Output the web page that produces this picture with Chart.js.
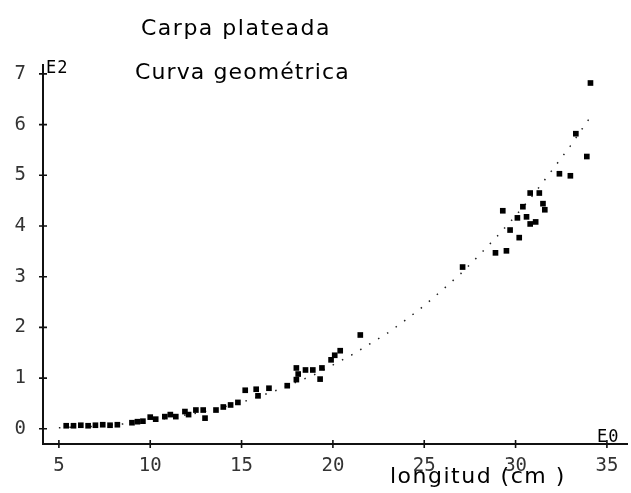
<!DOCTYPE html>
<html>
<head>
<meta charset="utf-8">
<script src="https://cdn.jsdelivr.net/npm/chart.js@4.4.0/dist/chart.umd.min.js"></script>
<style>
  html, body { margin: 0; padding: 0; background: #fff; }
  #wrap { width: 631px; height: 493px; }
</style>
</head>
<body>
<div id="wrap"><canvas id="chart" width="631" height="493"></canvas></div>
<script>
// longitud (cm) vs peso (E2)
const lengthCm = [5.4, 5.8, 6.2, 6.6, 7.0, 7.4, 7.8, 8.2, 9.0, 9.3, 9.6, 10.0, 10.3, 10.8, 11.1, 11.4, 11.9, 12.1, 12.5, 12.9, 13.0, 13.6, 14.0, 14.4, 14.8,
  15.2, 15.8, 15.9, 16.5, 17.5, 18.0, 18.0, 18.1, 18.5, 18.9, 19.3, 19.4, 19.9, 20.1, 20.4, 21.5,
  27.1, 28.9, 29.3, 29.5, 29.7, 30.1, 30.2, 30.4, 30.6, 30.8, 30.8, 31.1, 31.3, 31.5, 31.6, 32.4, 33.0, 33.3, 33.9, 34.1];
const weightE2 = [0.06, 0.06, 0.07, 0.06, 0.07, 0.08, 0.07, 0.08, 0.12, 0.14, 0.15, 0.23, 0.19, 0.24, 0.28, 0.24, 0.34, 0.28, 0.37, 0.37, 0.21, 0.37, 0.43, 0.47, 0.52,
  0.76, 0.78, 0.65, 0.80, 0.85, 0.97, 1.20, 1.08, 1.16, 1.16, 0.98, 1.20, 1.36, 1.45, 1.54, 1.85,
  3.19, 3.47, 4.30, 3.51, 3.92, 4.16, 3.77, 4.38, 4.18, 4.04, 4.65, 4.08, 4.65, 4.44, 4.32, 5.03, 4.99, 5.82, 5.37, 6.82];

// dotted geometric curve
const curveX = [5, 7, 9, 11, 13, 15, 17, 19, 21, 22, 23, 24, 25, 26, 27, 28, 29, 30, 31, 32, 33, 34];
const curveY = [0.02, 0.05, 0.11, 0.21, 0.34, 0.52, 0.77, 1.07, 1.45, 1.67, 1.89, 2.15, 2.43, 2.74, 3.06, 3.42, 3.80, 4.20, 4.63, 5.10, 5.58, 6.10];

const xTicks = [5, 10, 15, 20, 25, 30, 35];
const yTicks = [0, 1, 2, 3, 4, 5, 6, 7];

const tickFont = { family: 'DejaVu Sans Mono', size: 19 };

// "+" tick marks crossing both axes, plus the free text of the old plot
const plotterMarks = {
  id: 'plotterMarks',
  afterDraw(chart) {
    const { ctx, chartArea, scales } = chart;
    ctx.save();
    ctx.strokeStyle = '#111';
    ctx.lineWidth = 1.6;
    ctx.beginPath();
    yTicks.forEach(v => {
      const y = scales.y.getPixelForValue(v);
      ctx.moveTo(chartArea.left - 4, y);
      ctx.lineTo(chartArea.left + 4, y);
    });
    xTicks.forEach(v => {
      const x = scales.x.getPixelForValue(v);
      ctx.moveTo(x, chartArea.bottom - 4);
      ctx.lineTo(x, chartArea.bottom + 4);
    });
    ctx.stroke();

    ctx.fillStyle = '#000';
    ctx.textBaseline = 'alphabetic';
    ctx.textAlign = 'left';
    ctx.font = '22px "DejaVu Sans"';
    ctx.letterSpacing = '1.5px';
    ctx.fillText('Carpa plateada', 141, 35);
    ctx.letterSpacing = '1.1px';
    ctx.fillText('Curva geométrica', 135, 79);
    ctx.letterSpacing = '1.5px';
    ctx.fillText('longitud (cm )', 390, 483);
    ctx.font = '17px "DejaVu Sans Mono"';
    ctx.letterSpacing = '1px';
    ctx.fillText('E2', 46, 73);
    ctx.fillText('E0', 597, 442);
    ctx.restore();
  }
};

new Chart(document.getElementById('chart'), {
  type: 'scatter',
  data: {
    datasets: [
      {
        label: 'Curva geométrica',
        data: curveX.map((x, i) => ({ x: x, y: curveY[i] })),
        showLine: true,
        borderColor: '#222',
        borderWidth: 1.5,
        borderDash: [1.5, 9],
        pointRadius: 0,
        order: 2
      },
      {
        label: 'Carpa plateada',
        data: lengthCm.map((x, i) => ({ x: x, y: weightE2[i] })),
        pointStyle: 'rect',
        pointRadius: 4,
        backgroundColor: '#000',
        borderColor: '#000',
        borderWidth: 0,
        order: 1
      }
    ]
  },
  options: {
    responsive: false,
    animation: false,
    layout: { padding: { top: 65, left: 0, right: 0, bottom: 0 } },
    plugins: {
      legend: { display: false },
      title: { display: false },
      tooltip: { enabled: false }
    },
    scales: {
      x: {
        type: 'linear',
        min: 4.13,
        max: 36.1,
        grid: { display: false },
        border: { display: true, color: '#111', width: 2 },
        afterBuildTicks: scale => { scale.ticks = xTicks.map(v => ({ value: v })); },
        afterFit: scale => { scale.height = 49; },
        ticks: { color: '#333', font: tickFont, padding: 3, maxRotation: 0, autoSkip: false }
      },
      y: {
        type: 'linear',
        min: -0.3,
        max: 7.175,
        grid: { display: false },
        border: { display: true, color: '#111', width: 2 },
        afterBuildTicks: scale => { scale.ticks = yTicks.map(v => ({ value: v })); },
        afterFit: scale => { scale.width = 43; },
        ticks: { color: '#333', font: tickFont, padding: 9, autoSkip: false }
      }
    }
  },
  plugins: [plotterMarks]
});
</script>
</body>
</html>
